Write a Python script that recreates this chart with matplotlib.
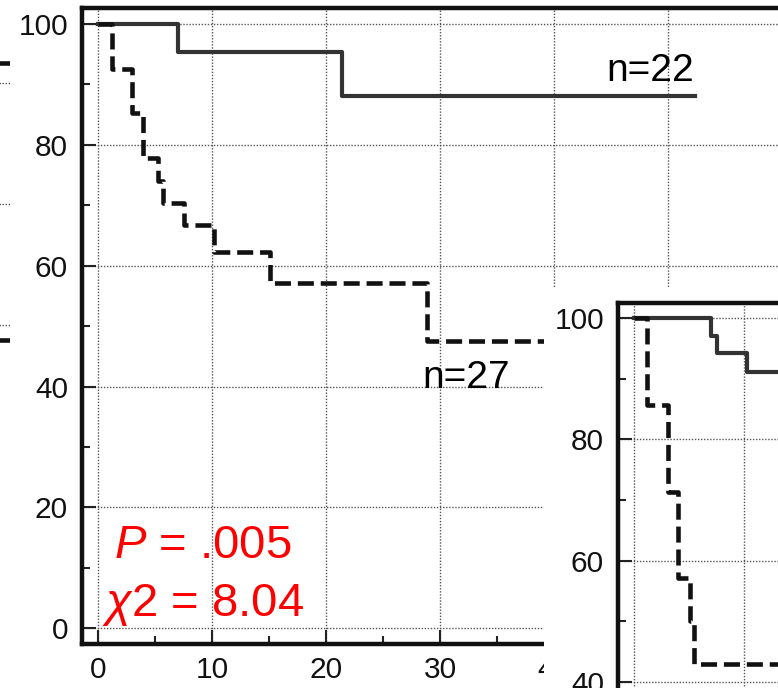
#Kaplan-Meier kurver: hovedplot med indsat delplot nederst til hoejre
import matplotlib.pyplot as plt
from matplotlib.patches import Rectangle
from matplotlib.ticker import MultipleLocator

plt.rcParams['font.family'] = ['Liberation Sans', 'DejaVu Sans']
#kursiv P og chi i teksten
plt.rcParams['mathtext.fontset'] = 'custom'
plt.rcParams['mathtext.it'] = 'Liberation Sans:italic'
plt.rcParams['mathtext.rm'] = 'Liberation Sans'

#Hovedplot: tider (maaneder) og overlevelse (%) for de to grupper
main_t_a = [0, 6.95, 21.35, 52.3]
main_s_a = [100, 95.45, 88.1, 88.1]
main_t_b = [0, 1.17, 2.93, 3.89, 5.26, 5.65, 7.52, 10.18, 15.06, 28.8, 45]
main_s_b = [100, 92.6, 85.2, 77.8, 74.1, 70.4, 66.7, 62.2, 57.1, 47.6, 47.6]
main_xticks = [0, 10, 20, 30, 40, 50]
n_labels = ["n=22", "n=27"]
p_text = "$P$ = .005"
chi_text = r"$\chi$2 = 8.04"

#Indsat plot
ins_t_a = [0, 6.97, 7.57, 10.25, 20]
ins_s_a = [100, 97.0, 94.2, 91.2, 91.2]
ins_t_b = [0, 1.2, 3.1, 4.0, 5.1, 5.5, 20]
ins_s_b = [100, 85.7, 71.4, 57.1, 50.0, 42.9, 42.9]

#Rest af et plot i venstre kant
left_x = [0, 10]
left_dash = [103.3, 103.3]
left_solid = [57.5, 57.5]

W, H = 778, 688
fig = plt.figure(figsize=(W / 100, H / 100), dpi=100)

def fx(px):
    return px / W

def fy(py):
    return 1 - py / H

def styleAxes(ax, xmaj, ymaj):
    for side in ['left', 'top', 'bottom', 'right']:
        ax.spines[side].set_linewidth(3.2)
        ax.spines[side].set_color('#111111')
    ax.xaxis.set_major_locator(MultipleLocator(xmaj))
    ax.xaxis.set_minor_locator(MultipleLocator(xmaj / 2))
    ax.yaxis.set_major_locator(MultipleLocator(ymaj))
    ax.yaxis.set_minor_locator(MultipleLocator(ymaj / 2))
    ax.tick_params(which='major', direction='in', length=10, width=1.5,
                   labelsize=21.5, pad=10, color='#222222', labelcolor='#111111')
    ax.tick_params(which='minor', direction='in', length=5.5, width=1.5,
                   color='#222222')
    ax.tick_params(axis='x', which='major', pad=9)
    ax.grid(True, which='major', linestyle=(0, (1, 1.2)), linewidth=1, color='#555555')
    ax.set_axisbelow(True)

#Venstre rest
axl = fig.add_axes([fx(-200), fy(643.7), fx(210), fy(8) - fy(643.7)], zorder=0)
axl.set_xlim(-20, 10)
axl.set_ylim(7.3, 112.4)
axl.set_yticks([60, 80, 100])
axl.set_xticks([])
axl.grid(True, axis='y', linestyle=(0, (1, 1.2)), linewidth=1, color='#555555')
axl.tick_params(left=False, labelleft=False)
for s in axl.spines.values():
    s.set_visible(False)
axl.plot(left_x, left_dash, color='#111111', lw=3.3, linestyle=(0, (3.5, 1.5)))
axl.plot(left_x, left_solid, color='#111111', lw=3.3)

#Hovedplot
x0, x1 = -1.43, 62
ax = fig.add_axes([fx(82), fy(643.7), fx(98.3 + x1 * 11.4) - fx(82), fy(8) - fy(643.7)], zorder=0)
ax.set_xlim(x0, x1)
ax.set_ylim(-2.55, 102.65)
styleAxes(ax, 10, 20)
ax.set_xticks(main_xticks)
ax.step(main_t_a, main_s_a, where='post', color='#333333', lw=3)
ax.step(main_t_b, main_s_b, where='post', color='#111111', lw=3.3, linestyle=(0, (3.5, 1.5)))
ax.text(44.6, 90.6, n_labels[0], fontsize=28, va='baseline', ha='left')
ax.text(28.4, 39.8, n_labels[1], fontsize=28, va='baseline', ha='left')
ax.text(1.4, 11.7, p_text, fontsize=34, color='#ff0000', va='baseline', ha='left')
ax.text(0.3, 2.0, chi_text, fontsize=34, color='#ff0000', va='baseline', ha='left')

#Hvid baggrund bag det indsatte plot
fig.patches.append(Rectangle((fx(544), 0), 1 - fx(544), fy(288), transform=fig.transFigure,
                             facecolor='white', edgecolor='none', zorder=1))

#Indsat plot
ax2 = fig.add_axes([fx(618), fy(742.5), fx(854) - fx(618), fy(303) - fy(742.5)], zorder=2)
ax2.set_xlim(-1.45, 20)
ax2.set_ylim(30, 102.5)
styleAxes(ax2, 10, 20)
ax2.tick_params(axis='x', labelbottom=False)
ax2.step(ins_t_a, ins_s_a, where='post', color='#333333', lw=3)
ax2.step(ins_t_b, ins_s_b, where='post', color='#111111', lw=3.3, linestyle=(0, (3.5, 1.5)))

fig.savefig('out.png', dpi=100)
